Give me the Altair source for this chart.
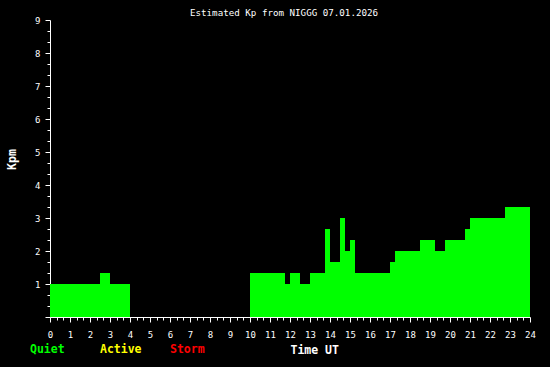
import altair as alt
import pandas as pd

# Segments of estimated Kp (hours UT, Kp value)
seg_start = [0.0, 2.5, 3.0, 10.0, 11.75, 12.0, 12.5, 13.0, 13.75, 14.0, 14.5, 14.75, 15.0, 15.25,
             17.0, 17.25, 18.5, 19.25, 19.75, 20.75, 21.0, 22.75]
seg_end = [2.5, 3.0, 4.0, 11.75, 12.0, 12.5, 13.0, 13.75, 14.0, 14.5, 14.75, 15.0, 15.25, 17.0,
           17.25, 18.5, 19.25, 19.75, 20.75, 21.0, 22.75, 24.0]
kp = [1.0, 1.333, 1.0, 1.333, 1.0, 1.333, 1.0, 1.333, 2.667, 1.667, 3.0, 2.0, 2.333, 1.333,
      1.667, 2.0, 2.333, 2.0, 2.333, 2.667, 3.0, 3.333]

legend_labels = ["Quiet", "Active", "Storm"]
legend_colors = ["#00ff00", "#ffff00", "#ff0000"]
legend_x = [-20, 50, 120]

title_text = "Estimated Kp from NIGGG 07.01.2026"

df = pd.DataFrame({"start": seg_start, "end": seg_end, "kp": kp})
df["level"] = ["Quiet" if v < 4 else ("Active" if v < 5 else "Storm") for v in kp]

FONT = "DejaVu Sans Mono"

x_vals = [round(i / 3, 6) for i in range(0, 73)]
y_vals = [round(i / 3, 6) for i in range(0, 28)]

bars = alt.Chart(df).mark_rect(strokeWidth=0).encode(
    x=alt.X("start:Q", scale=alt.Scale(domain=[0, 24], nice=False, zero=True),
            axis=alt.Axis(values=x_vals,
                          labelExpr="datum.value % 1 === 0 ? format(datum.value, 'd') : ''",
                          tickSize={"condition": {"test": "datum.value % 1 === 0", "value": 5}, "value": 3},
                          labelOverlap=False, labelFlush=False, labelBound=False,
                          labelFont=FONT, labelFontSize=9, labelColor="white",
                          labelBaseline="alphabetic", labelPadding=15,
                          tickColor="white", domainColor="white", grid=False,
                          title="Time UT", titleFont=FONT, titleFontSize=11.5, titleFontWeight="bold",
                          titleColor="white", titleAnchor="start", titleAlign="left",
                          titleX=240, titleY=36, titleBaseline="alphabetic")),
    x2="end:Q",
    y=alt.Y("kp:Q", scale=alt.Scale(domain=[0, 9], nice=False),
            axis=alt.Axis(values=y_vals,
                          labelExpr="(datum.value % 1 === 0 && datum.value > 0) ? format(datum.value, 'd') : ''",
                          tickSize={"condition": {"test": "datum.value % 1 === 0", "value": 5}, "value": 3},
                          labelOverlap=False, labelFlush=False, labelBound=False,
                          labelFont=FONT, labelFontSize=9, labelColor="white", labelPadding=5,
                          tickColor="white", domainColor="white", grid=False,
                          title="Kpm", titleFont=FONT, titleFontSize=11.5, titleFontWeight="bold",
                          titleColor="white", titleAngle=-90, titleX=-38, titleY=139,
                          titleAlign="center", titleBaseline="middle")),
    y2=alt.datum(0),
    color=alt.Color("level:N", scale=alt.Scale(domain=legend_labels, range=legend_colors), legend=None),
)

layers = [bars]
for lab, col, lx in zip(legend_labels, legend_colors, legend_x):
    layers.append(
        alt.Chart(pd.DataFrame({"t": [lab]})).mark_text(
            font=FONT, fontSize=11.5, fontWeight="bold", color=col,
            align="left", baseline="alphabetic").encode(
            text="t:N", x=alt.value(lx), y=alt.value(333))
    )

title_layer = alt.Chart(pd.DataFrame({"t": [title_text]})).mark_text(
    font=FONT, fontSize=9.2, color="white", align="center", baseline="alphabetic").encode(
    text="t:N", x=alt.value(234), y=alt.value(-4))
layers.append(title_layer)

chart = alt.layer(*layers).properties(
    width=480, height=297,
    background="black",
    autosize=alt.AutoSizeParams(type="none"),
    padding={"left": 50, "top": 20, "right": 20, "bottom": 50},
).configure_view(stroke=None)

chart.save("out.html", embed_options={"renderer": "svg", "actions": False})
